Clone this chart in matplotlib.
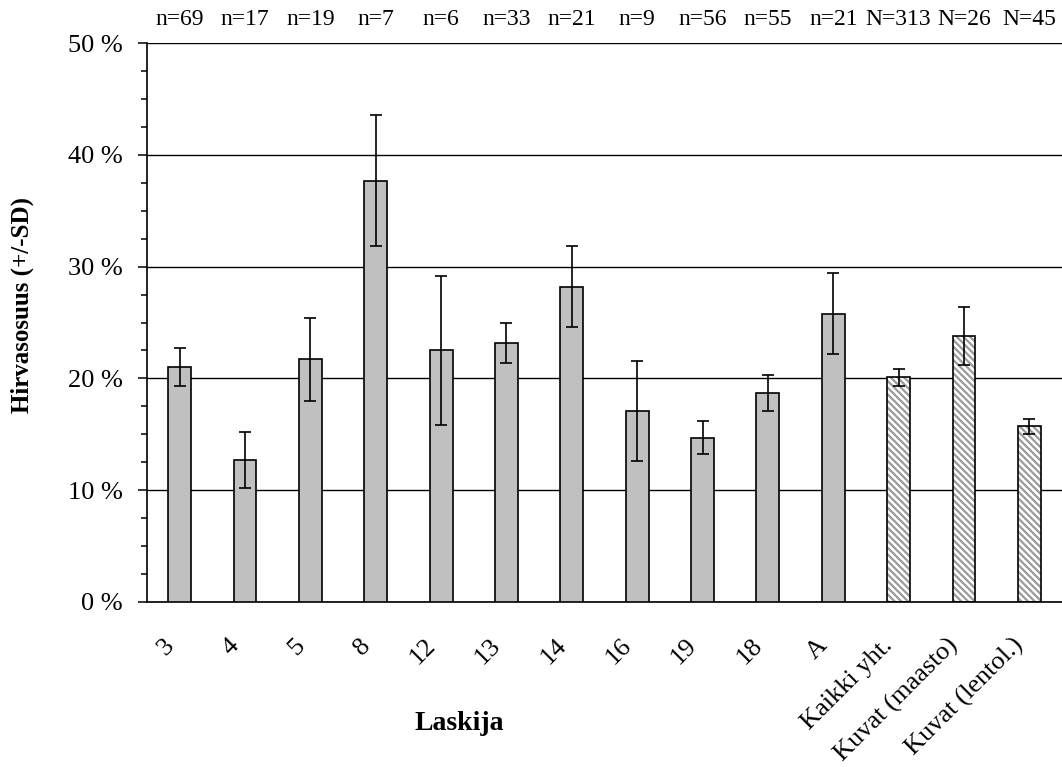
import matplotlib
matplotlib.use("Agg")
import matplotlib.pyplot as plt
import matplotlib.transforms as mtransforms
from matplotlib.ticker import MultipleLocator, FuncFormatter

# Data
labels = ['3', '4', '5', '8', '12', '13', '14', '16', '19', '18', 'A',
          'Kaikki yht.', 'Kuvat (maasto)', 'Kuvat (lentol.)']
counts = ['n=69', 'n=17', 'n=19', 'n=7', 'n=6', 'n=33', 'n=21', 'n=9',
          'n=56', 'n=55', 'n=21', 'N=313', 'N=26', 'N=45']
values = [21.0, 12.7, 21.7, 37.7, 22.5, 23.2, 28.2, 17.1, 14.7, 18.7, 25.8,
          20.1, 23.8, 15.7]
sd = [1.7, 2.5, 3.7, 5.9, 6.7, 1.8, 3.6, 4.5, 1.5, 1.6, 3.6, 0.75, 2.6, 0.65]
hatched = [False] * 11 + [True] * 3

plt.rcParams['font.family'] = ['Liberation Serif', 'DejaVu Serif']
plt.rcParams['hatch.linewidth'] = 1.6

fig = plt.figure(figsize=(10.62, 7.67), dpi=100)
ax = fig.add_axes([147 / 1062, 1 - 602 / 767, (1062 - 147) / 1062, (602 - 43) / 767])

x = list(range(len(labels)))
width = 0.35

for i in x:
    if hatched[i]:
        ax.bar(i, values[i], width, color='white', edgecolor='#9a9a9a',
               hatch='\\\\\\\\\\', linewidth=0, zorder=2)
        ax.bar(i, values[i], width, fill=False, edgecolor='black',
               linewidth=1.2, zorder=3)
    else:
        ax.bar(i, values[i], width, color='#c0c0c0', edgecolor='black',
               linewidth=1.2, zorder=3)

ax.errorbar(x, values, yerr=sd, fmt='none', ecolor='black', elinewidth=1.2,
            capsize=4.5, capthick=1.2, zorder=4)

ax.set_xlim(-0.5, len(labels) - 0.5)
ax.set_ylim(0, 50)
ax.yaxis.set_major_locator(MultipleLocator(10))
ax.yaxis.set_minor_locator(MultipleLocator(2.5))
ax.yaxis.set_major_formatter(FuncFormatter(lambda v, p: f'{v:.0f} %'))
ax.yaxis.grid(True, which='major', color='black', linewidth=1.0, zorder=1)
ax.set_axisbelow(True)

ax.tick_params(axis='y', which='major', length=6.5, width=1.1, labelsize=19, pad=11)
ax.tick_params(axis='y', which='minor', length=4, width=1.1)
ax.tick_params(axis='x', length=0, labelsize=19, pad=29)

ax.set_xticks(x)
ax.set_xticklabels(labels, rotation=45, ha='right', va='center',
                   rotation_mode='anchor')
shift = mtransforms.ScaledTranslation(-9 / 100, 0, fig.dpi_scale_trans)
for lbl in ax.get_xticklabels():
    lbl.set_transform(lbl.get_transform() + shift)

for s in ['top', 'right']:
    ax.spines[s].set_visible(False)
ax.spines['left'].set_linewidth(1.2)
ax.spines['bottom'].set_linewidth(1.2)

for i in x:
    ax.text(i, 52.06, counts[i], ha='center', va='center', fontsize=17)

fig.text(22 / 1062, 1 - 305 / 767, 'Hirvasosuus (+/-SD)', rotation=90,
         ha='center', va='center', fontsize=18, fontweight='bold')
fig.text(459 / 1062, 1 - 723 / 767, 'Laskija', ha='center', va='center',
         fontsize=20, fontweight='bold')

fig.savefig('out.png', dpi=100)
